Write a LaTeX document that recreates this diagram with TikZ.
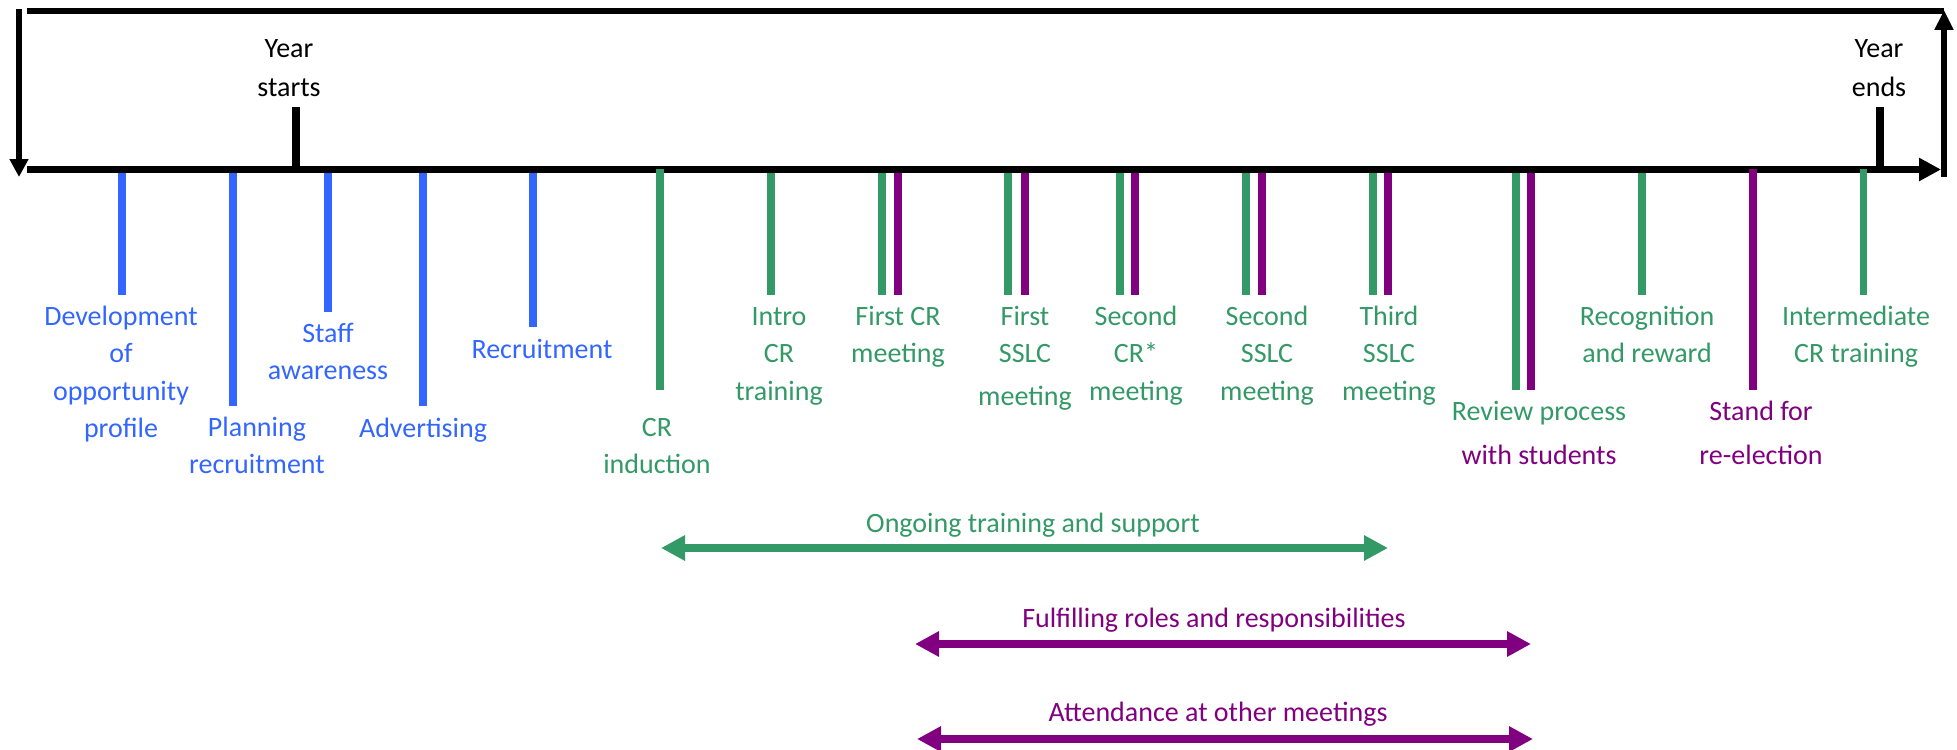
\documentclass[tikz,border=0pt]{standalone}
\usepackage{fontspec}
\setmainfont{Carlito}
\usetikzlibrary{arrows.meta}
\definecolor{cblue}{RGB}{51,102,255}
\definecolor{cgreen}{RGB}{51,153,102}
\definecolor{cpurple}{RGB}{128,0,128}
\newcommand\firstln{\rule{0pt}{11pt}}
\begin{document}
\begin{tikzpicture}[x=0.5pt,y=-0.5pt,
  lbl/.style={align=center, inner sep=0pt, anchor=north, font=\fontsize{14}{18.7}\selectfont},
  tick/.style={line width=3.85pt},
  axis/.style={line width=3.85pt, black},
  frame/.style={line width=3pt, black},
  span/.style={line width=3.85pt, {Triangle[length=12pt,width=12pt]}-{Triangle[length=12pt,width=12pt]}}
]
\useasboundingbox (0,0) rectangle (1957,749);

% timeline coordinates
\coordinate (L0) at (27,169.5);
\coordinate (L1) at (1941,169.5);
\coordinate (T0) at (27,11.3);
\coordinate (T1) at (1944,11.3);
\coordinate (D0) at (19,9);
\coordinate (D1) at (19,177);
\coordinate (U0) at (1944,177);
\coordinate (U1) at (1944,10);

% ticks (below the line)
\foreach \n/\x/\y/\c in {b1/122/295/cblue, b2/233/406/cblue, b3/328/312/cblue, b4/423/406/cblue, b5/533/327/cblue,
  g2/771/295/cgreen, g3/882/295/cgreen, p3/898/295/cpurple, g4/1008/295/cgreen, p4/1025/295/cpurple,
  g5/1120/295/cgreen, p5/1135/295/cpurple, g6/1246/295/cgreen, p6/1262/295/cpurple,
  g7/1373/295/cgreen, p7/1388/295/cpurple, g8/1516/390/cgreen, p8/1531/390/cpurple, g9/1642/295/cgreen}{
  \coordinate (\n s) at (\x,172);
  \coordinate (\n e) at (\x,\y);
  \draw[tick, \c] (\n s) -- (\n e);
}

% frame and axis
\draw[frame] (T0) -- (T1);
\draw[line width=2.85pt, -{Triangle[length=9pt,width=9pt]}] (D0) -- (D1);
\draw[line width=3.3pt, -{Triangle[length=10pt,width=9pt]}] (U0) -- (U1);
\draw[axis, -{Triangle[length=11pt,width=11pt]}] (L0) -- (L1);

% ticks drawn over the line
\foreach \n/\x/\y/\c in {g1/660/390/cgreen, p10/1753/390/cpurple, g11/1863.5/295/cgreen}{
  \coordinate (\n s) at (\x,169);
  \coordinate (\n e) at (\x,\y);
  \draw[tick, \c] (\n s) -- (\n e);
}

% year markers
\coordinate (ys0) at (296,169);
\coordinate (ys1) at (296,107);
\coordinate (ye0) at (1880,169);
\coordinate (ye1) at (1880,107);
\draw[tick, black] (ys0) -- (ys1);
\draw[tick, black] (ye0) -- (ye1);
\node[lbl] (ystart) at (289,35) {\firstln Year\\[0.8pt]starts};
\node[lbl] (yend) at (1879,35) {\firstln Year\\[0.8pt]ends};

% labels
\node[lbl, cblue] (lb1) at (121,303) {\firstln Development\\of\\opportunity\\profile};
\node[lbl, cblue] (lb2) at (257,414) {\firstln Planning\\recruitment};
\node[lbl, cblue] (lb3) at (328,320) {\firstln Staff\\awareness};
\node[lbl, cblue] (lb4) at (423,415) {\firstln Advertising};
\node[lbl, cblue] (lb5) at (542,336) {\firstln Recruitment};
\node[lbl, cgreen] (lg1) at (657,414) {\firstln CR\\induction};
\node[lbl, cgreen] (lg2) at (779,303) {\firstln Intro\\CR\\training};
\node[lbl, cgreen] (lg3) at (898,303) {\firstln First CR\\meeting};
\node[lbl, cgreen] (lg4) at (1025,303) {\firstln First\\SSLC\\[2.5pt]meeting};
\node[lbl, cgreen] (lg5) at (1136,303) {\firstln Second\\CR*\\meeting};
\node[lbl, cgreen] (lg6) at (1267,303) {\firstln Second\\SSLC\\meeting};
\node[lbl, cgreen] (lg7) at (1389,303) {\firstln Third\\SSLC\\meeting};
\node[lbl] (lg8) at (1539,398) {\firstln\textcolor{cgreen}{Review process}\\[3.3pt]\textcolor{cpurple}{with students}};
\node[lbl, cgreen] (lg9) at (1647,303) {\firstln Recognition\\and reward};
\node[lbl, cpurple] (lp10) at (1761,398) {\firstln Stand for\\[3.3pt]re-election};
\node[lbl, cgreen] (lg11) at (1856,303) {\firstln Intermediate\\CR training};

% spans
\coordinate (o0) at (661,548);
\coordinate (o1) at (1388,548);
\coordinate (f0) at (915,644);
\coordinate (f1) at (1531,644);
\coordinate (a0) at (917,739);
\coordinate (a1) at (1533,739);
\draw[span, cgreen] (o0) -- (o1);
\draw[span, cpurple] (f0) -- (f1);
\draw[span, cpurple] (a0) -- (a1);
\node[lbl, cgreen] (ong) at (1033,510) {\firstln Ongoing training and support};
\node[lbl, cpurple] (ful) at (1214,605) {\firstln Fulfilling roles and responsibilities};
\node[lbl, cpurple] (att) at (1218,699) {\firstln Attendance at other meetings};
\end{tikzpicture}
\end{document}
